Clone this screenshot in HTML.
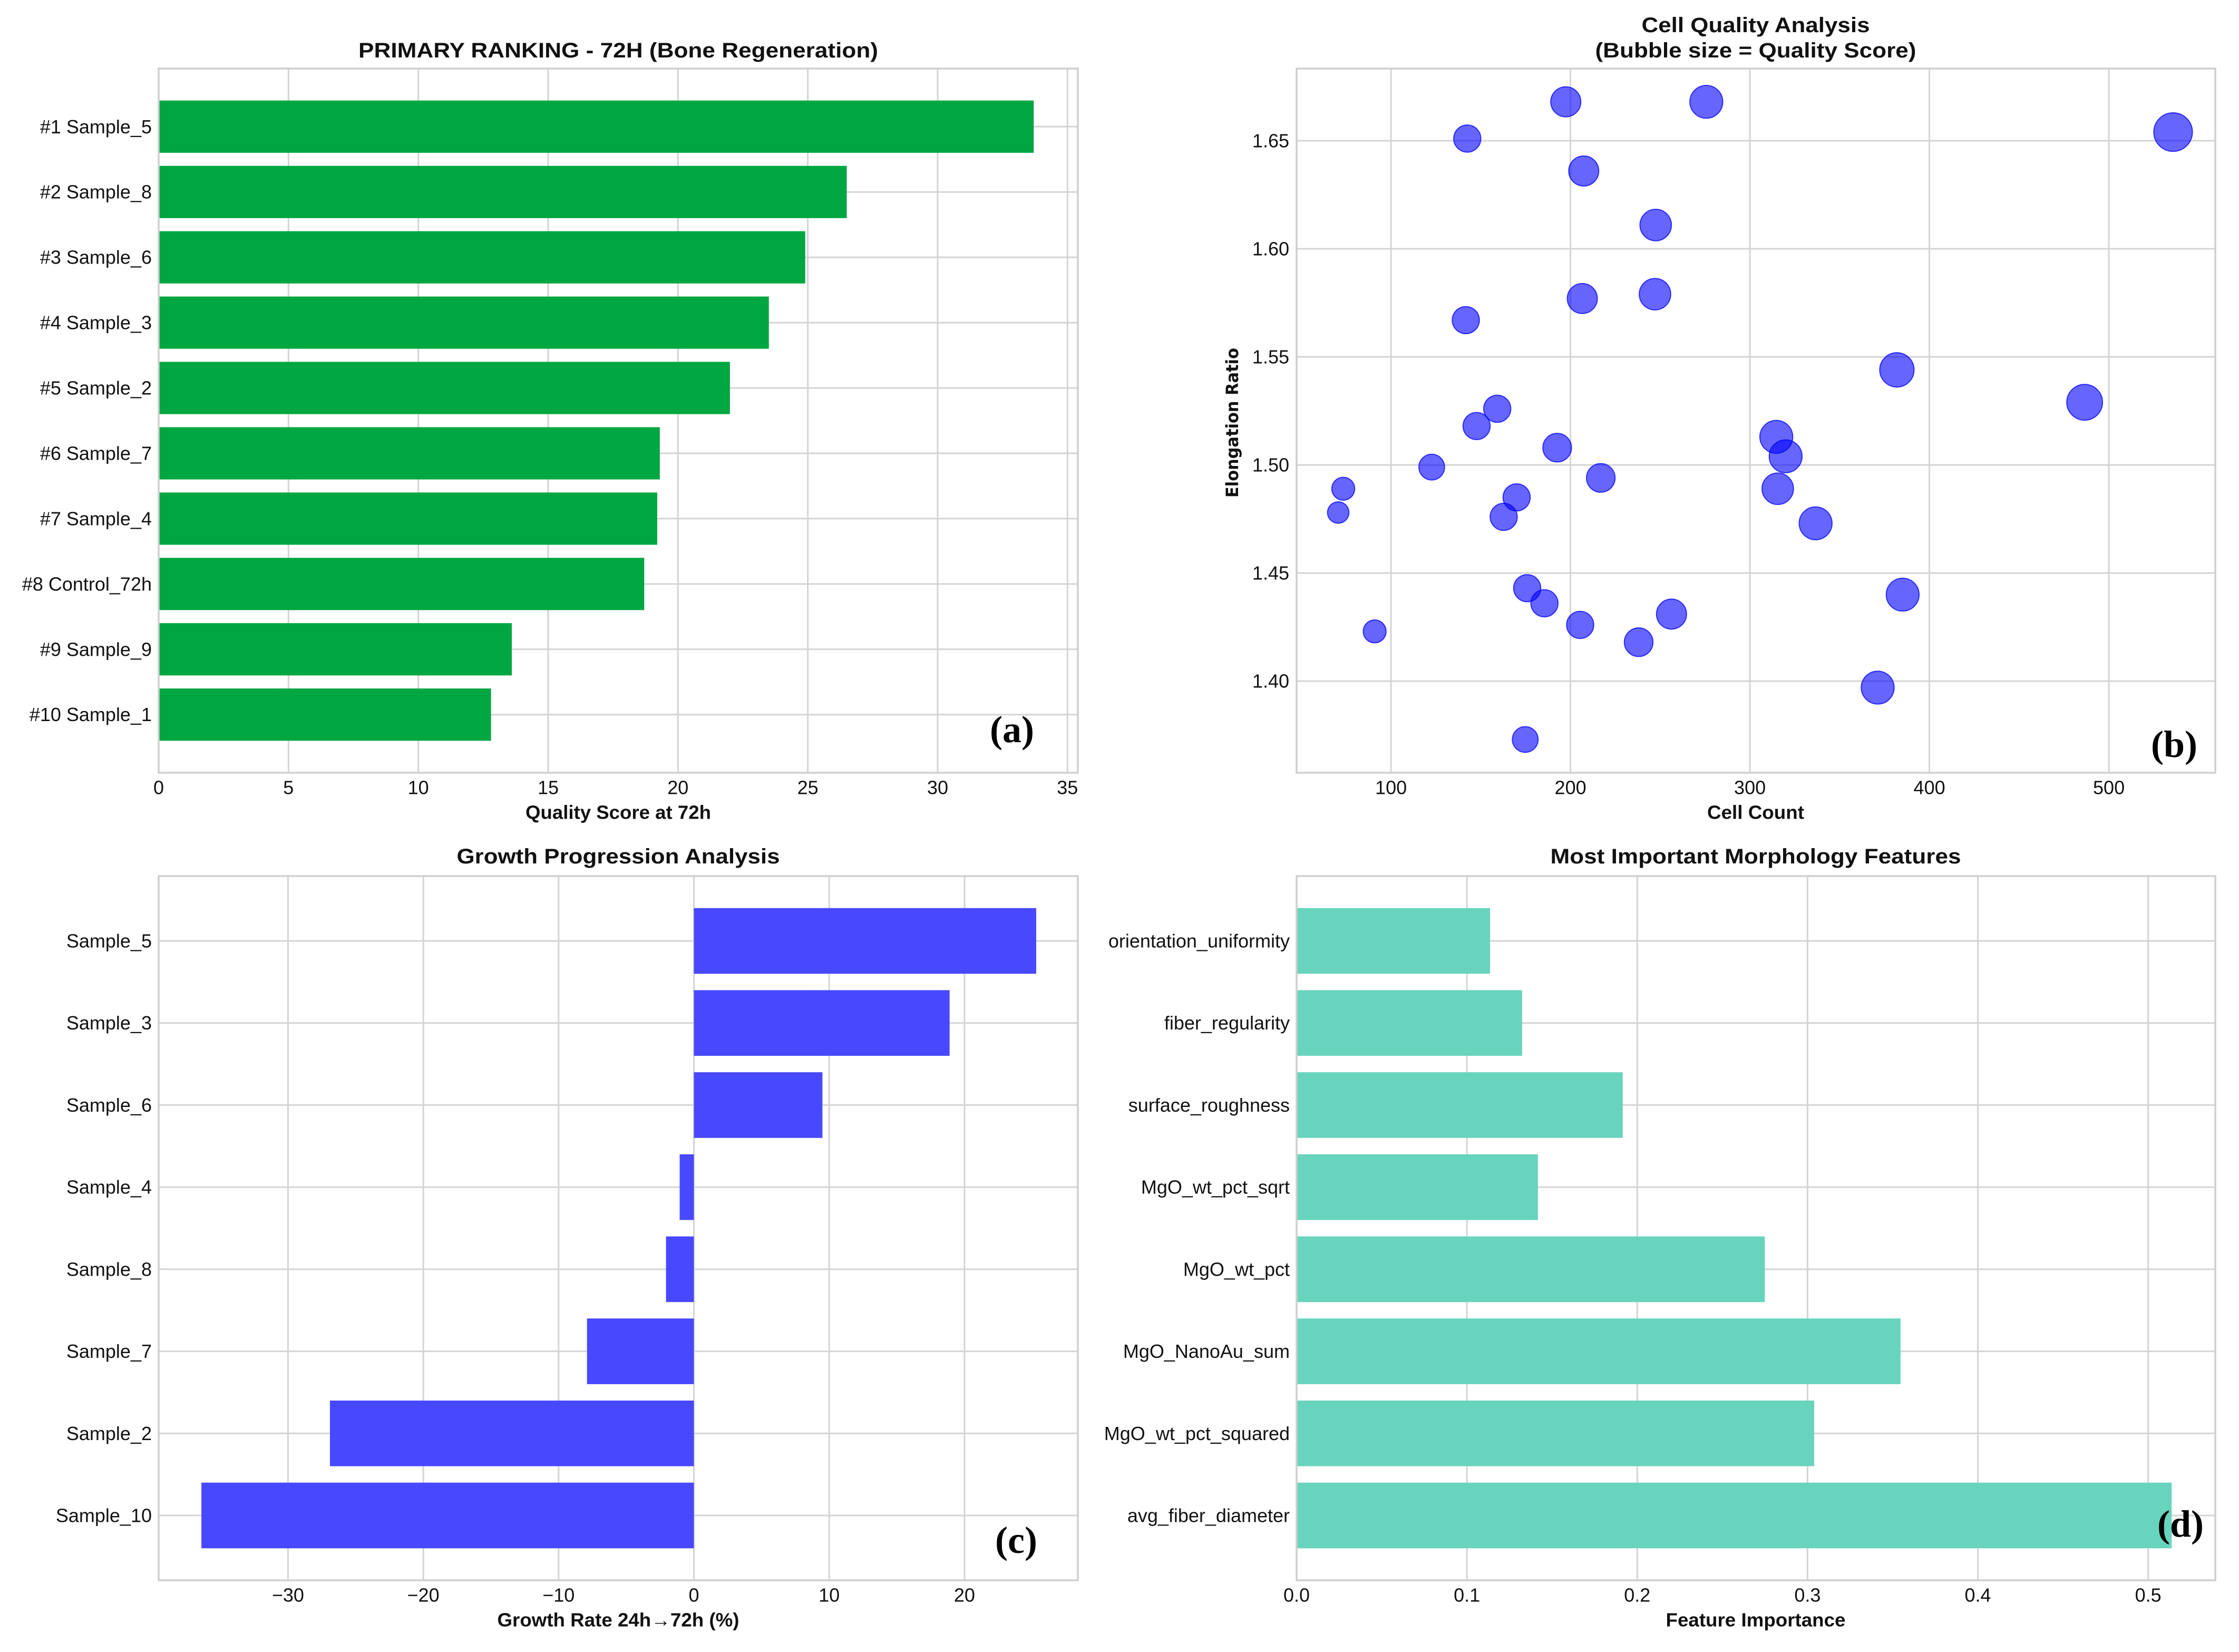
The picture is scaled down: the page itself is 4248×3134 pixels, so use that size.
<!DOCTYPE html>
<html><head><meta charset="utf-8"><style>
html,body{margin:0;padding:0;background:#fff;}
svg{display:block;font-family:"Liberation Sans",Arial,sans-serif;}
</style></head><body>
<svg id="fig" xmlns="http://www.w3.org/2000/svg" width="4248" height="3134" viewBox="0 0 4248 3134">
<rect x="0" y="0" width="4248" height="3134" fill="#ffffff"/>
</svg>
<script>
// Panel (a) data
const rankLabels = ["#1 Sample_5","#2 Sample_8","#3 Sample_6","#4 Sample_3","#5 Sample_2","#6 Sample_7","#7 Sample_4","#8 Control_72h","#9 Sample_9","#10 Sample_1"];
const rankScores = [33.7,26.5,24.9,23.5,22.0,19.3,19.2,18.7,13.6,12.8];
const rankTicks = [0,5,10,15,20,25,30,35];
// Panel (b) data
const cellCount = [197.4,275.7,142.5,535.8,207.4,247.5,206.6,247.1,141.7,381.9,486.5,159.2,147.7,192.6,314.7,319.9,122.7,73.4,70.6,216.9,170.0,162.8,315.5,336.6,175.9,185.5,385.1,90.9,205.4,256.3,238.0,371.2,174.8];
const elongation = [1.668,1.668,1.651,1.654,1.636,1.611,1.577,1.579,1.567,1.544,1.529,1.526,1.518,1.508,1.513,1.504,1.499,1.489,1.478,1.494,1.485,1.476,1.489,1.473,1.443,1.436,1.440,1.423,1.426,1.431,1.418,1.397,1.373];
const qualityScore = [20.6,24.7,16.8,34,20.6,22.6,20.6,22.6,16.8,26.9,29.2,16.8,16.8,18.7,24.7,24.7,15.1,11.9,10.5,18.7,16.8,16.8,22.6,24.7,16.8,16.8,24.7,11.9,16.8,20.6,18.7,24.7,15.1];
const bxTicks = [100,200,300,400,500];
const byTicks = [1.40,1.45,1.50,1.55,1.60,1.65];
// Panel (c) data
const growthLabels = ["Sample_5","Sample_3","Sample_6","Sample_4","Sample_8","Sample_7","Sample_2","Sample_10"];
const growthRates = [25.3,18.9,9.5,-1.05,-2.06,-7.9,-26.9,-36.4];
const growthTicks = [-30,-20,-10,0,10,20];
const growthTickLabels = ["\u221230","\u221220","\u221210","0","10","20"];
// Panel (d) data
const featureLabels = ["orientation_uniformity","fiber_regularity","surface_roughness","MgO_wt_pct_sqrt","MgO_wt_pct","MgO_NanoAu_sum","MgO_wt_pct_squared","avg_fiber_diameter"];
const featureImportance = [0.1136,0.1324,0.1915,0.1417,0.2749,0.3546,0.3039,0.5138];
const featureTicks = [0,0.1,0.2,0.3,0.4,0.5];
const featureTickLabels = ["0.0","0.1","0.2","0.3","0.4","0.5"];

const NS="http://www.w3.org/2000/svg";
const svg=document.getElementById('fig');
function mk(tag,attrs,parent){const e=document.createElementNS(NS,tag);for(const k in attrs)e.setAttribute(k,attrs[k]);(parent||svg).appendChild(e);return e;}
function txt(s,x,y,size,opts,name){
  opts=opts||{};
  const t=mk('text',{x:x,y:y,'font-size':size,'text-anchor':opts.anchor||'middle','dominant-baseline':'central',fill:'#111','font-weight':opts.bold?'bold':'normal'});
  if(opts.len){t.setAttribute('textLength',opts.len);t.setAttribute('lengthAdjust','spacingAndGlyphs');}
  if(opts.family)t.setAttribute('font-family',opts.family);
  if(opts.rot)t.setAttribute('transform','rotate(-90 '+x+' '+y+')');
  t.textContent=s;
  
  
  return t;
}
const GRID='#d4d4d4', FRAME='#cfcfcf';
function gridV(x,y0,y1){const l=mk('line',{x1:x,x2:x,y1:y0,y2:y1,stroke:GRID,'stroke-width':3});
  
  }
function gridH(y,x0,x1){const l=mk('line',{x1:x0,x2:x1,y1:y,y2:y,stroke:GRID,'stroke-width':3});
  
  }
function frame(L,R,T,B,name){const r=mk('rect',{x:L,y:T,width:R-L,height:B-T,fill:'none',stroke:FRAME,'stroke-width':3.5});
  
  }
function panelLabel(s,x,y){
  const t=mk('text',{x:x,y:y,'font-size':72,'text-anchor':'middle','dominant-baseline':'central','font-family':'"Liberation Serif",serif','font-weight':'bold',fill:'#000'});
  t.textContent=s;
  
  
}

// Horizontal bar chart helper
function hbar(cfg){
  const {L,R,T,B,xmin,xmax,labels,values,ticks,tickLabels,color,name}=cfg;
  const n=labels.length;
  const ymin=-0.4-0.05*(n-0.2), ymax=n-1+0.4+0.05*(n-0.2);
  const sx=v=>L+(v-xmin)/(xmax-xmin)*(R-L);
  const sy=i=>T+(i-ymin)/(ymax-ymin)*(B-T);
  const bh=0.8*(B-T)/(ymax-ymin);
  ticks.forEach((v,i)=>{gridV(sx(v),T,B);txt(tickLabels[i],sx(v),B+28,36,{},'x-tick-label');});
  labels.forEach((s,i)=>{gridH(sy(i),L,R);txt(s,L-13,sy(i),36,{anchor:'end'},'y-tick-label');});
  values.forEach((v,i)=>{
    const x0=sx(Math.min(0,v)), x1=sx(Math.max(0,v));
    const r=mk('rect',{x:x0,y:sy(i)-bh/2,width:x1-x0,height:bh,fill:color});
    
    
  });
  frame(L,R,T,B,name+'-frame');
}

// Panel (a)
hbar({L:301,R:2045,T:130,B:1466,xmin:0,xmax:35.4,labels:rankLabels,values:rankScores,ticks:rankTicks,tickLabels:rankTicks.map(String),color:'#00a642',name:'ranking'});
txt('PRIMARY RANKING - 72H (Bone Regeneration)',1173,96,40,{bold:true,len:986},'ranking-title');
txt('Quality Score at 72h',1173,1541,36,{bold:true,len:352},'ranking-x-axis-title');
panelLabel('(a)',1920,1384);

// Panel (b)
(function(){
  const L=2460,R=4203,T=130,B=1466,xmin=47.4,xmax=559.3,ymin=1.3576,ymax=1.6834;
  const sx=v=>L+(v-xmin)/(xmax-xmin)*(R-L);
  const sy=v=>B-(v-ymin)/(ymax-ymin)*(B-T);
  bxTicks.forEach(v=>{gridV(sx(v),T,B);txt(String(v),sx(v),B+28,36,{},'x-tick-label');});
  byTicks.forEach(v=>{gridH(sy(v),L,R);txt(v.toFixed(2),L-14,sy(v),36,{anchor:'end'},'y-tick-label');});
  cellCount.forEach((c,i)=>{
    const r=36.6*Math.sqrt(qualityScore[i]/34);
    const ci=mk('circle',{cx:sx(c),cy:sy(elongation[i]),r:r,fill:'rgba(0,0,255,0.6)',stroke:'rgba(0,0,255,0.75)','stroke-width':2});
    
    
  });
  frame(L,R,T,B,'cell-quality-frame');
  txt('Cell Quality Analysis',3331,48,40,{bold:true,len:433},'cell-quality-title');
  txt('(Bubble size = Quality Score)',3331,96,40,{bold:true,len:609},'cell-quality-subtitle');
  txt('Cell Count',3331,1541,36,{bold:true,len:184},'cell-quality-x-axis-title');
  txt('Elongation Ratio',2338,802,32,{bold:true,rot:true,len:284,family:'"DejaVu Sans",sans-serif'},'cell-quality-y-axis-title');
  panelLabel('(b)',4125,1412);
})();

// Panel (c)
hbar({L:301,R:2045,T:1662,B:2998,xmin:-39.56,xmax:28.38,labels:growthLabels,values:growthRates,ticks:growthTicks,tickLabels:growthTickLabels,color:'#4848ff',name:'growth'});
txt('Growth Progression Analysis',1173,1625,40,{bold:true,len:613},'growth-title');
txt('Growth Rate 24h\u219272h (%)',1173,3073,36,{bold:true,len:459},'growth-x-axis-title');
panelLabel('(c)',1928,2922);

// Panel (d)
hbar({L:2460,R:4203,T:1662,B:2998,xmin:0,xmax:0.5394,labels:featureLabels,values:featureImportance,ticks:featureTicks,tickLabels:featureTickLabels,color:'#68d4bd',name:'features'});
txt('Most Important Morphology Features',3331,1625,40,{bold:true,len:779},'features-title');
txt('Feature Importance',3331,3073,36,{bold:true,len:341},'features-x-axis-title');
panelLabel('(d)',4137,2891);
</script>
</body></html>
